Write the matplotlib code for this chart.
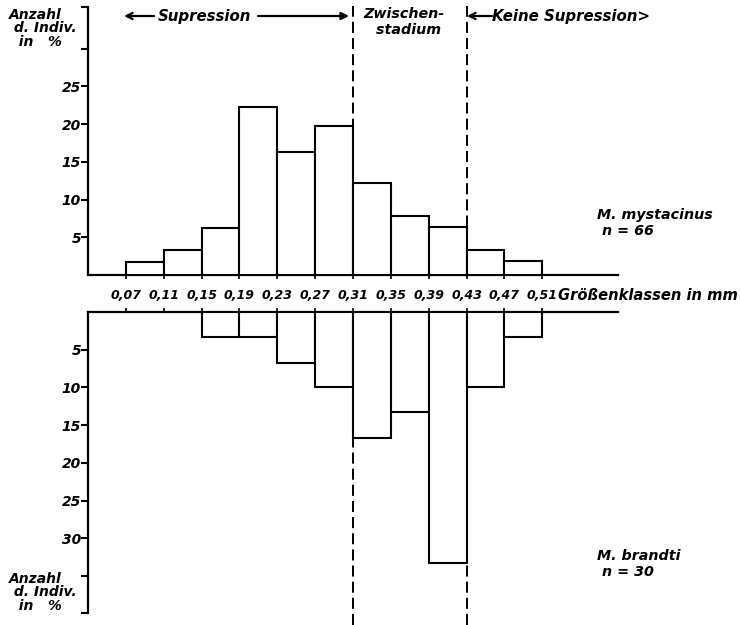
import numpy as np
import matplotlib
matplotlib.use('Agg')
import matplotlib.pyplot as plt

# size classes (mm) and bar heights in %
class_edges = [0.07, 0.11, 0.15, 0.19, 0.23, 0.27, 0.31, 0.35, 0.39, 0.43, 0.47, 0.51]
tick_labels = ['0,07', '0,11', '0,15', '0,19', '0,23', '0,27', '0,31', '0,35', '0,39', '0,43', '0,47', '0,51']

myst_left = [0.07, 0.11, 0.15, 0.19, 0.23, 0.27, 0.31, 0.35, 0.39, 0.43, 0.47]
myst_pct = [1.7, 3.3, 6.2, 22.2, 16.3, 19.7, 12.2, 7.8, 6.3, 3.3, 1.8]

brandti_left = [0.15, 0.19, 0.23, 0.27, 0.31, 0.35, 0.39, 0.43, 0.47]
brandti_pct = [3.3, 3.3, 6.7, 10.0, 16.7, 13.3, 33.3, 10.0, 3.3]

phase_bounds = [0.31, 0.43]
bin_w = 0.04

W, H = 740, 625
fig = plt.figure(figsize=(W / 100, H / 100), dpi=100)
fig.patch.set_facecolor('white')

font = dict(family='DejaVu Sans', weight='bold', style='italic')
dash = (0, (5.7, 2.6))

def px(x, y):
    return x / W, 1 - y / H

# --- top panel: M. mystacinus ---
ax1 = fig.add_axes([88 / W, 1 - 275 / H, 530 / W, 268 / H])
ax1.set_xlim(0.03, 0.59)
ax1.set_ylim(0, 35.5)
ax1.bar(myst_left, myst_pct, width=bin_w, align='edge', facecolor='white',
        edgecolor='black', linewidth=1.5, zorder=3)
for b in phase_bounds:
    ax1.axvline(b, ymin=0, ymax=1.005, color='black', lw=1.4,
                linestyle=dash, zorder=1, clip_on=False)
ax1.set_yticks([5, 10, 15, 20, 25, 30, 35.5])
ax1.set_yticklabels(['5', '10', '15', '20', '25', '', ''], fontsize=10, **font)
ax1.set_xticks(class_edges)
ax1.set_xticklabels([])
ax1.tick_params(axis='y', direction='out', length=5, width=1.5, pad=0)
ax1.tick_params(axis='x', direction='out', length=3, width=1.2)
for s in ['top', 'right']:
    ax1.spines[s].set_visible(False)
for s in ['left', 'bottom']:
    ax1.spines[s].set_linewidth(1.6)

# --- bottom panel: M. brandti (hanging down) ---
ax2 = fig.add_axes([88 / W, 1 - 613 / H, 530 / W, 301 / H])
ax2.set_xlim(0.03, 0.59)
ax2.set_ylim(39.9, 0)
ax2.bar(brandti_left, brandti_pct, width=bin_w, align='edge', facecolor='white',
        edgecolor='black', linewidth=1.5, zorder=3)
for b in phase_bounds:
    ax2.axvline(b, ymin=-0.04, ymax=1, color='black', lw=1.4,
                linestyle=dash, zorder=1, clip_on=False)
ax2.set_yticks([5, 10, 15, 20, 25, 30, 35, 39.9])
ax2.set_yticklabels(['5', '10', '15', '20', '25', '30', '', ''], fontsize=10, **font)
ax2.xaxis.set_ticks_position('top')
ax2.set_xticks(class_edges)
ax2.set_xticklabels(tick_labels, fontsize=9, **font)
ax2.tick_params(axis='y', direction='out', length=5, width=1.5, pad=0)
ax2.tick_params(axis='x', direction='out', length=3, width=1.2, pad=4)
for s in ['bottom', 'right']:
    ax2.spines[s].set_visible(False)
for s in ['left', 'top']:
    ax2.spines[s].set_linewidth(1.6)

# --- texts ---
fig.text(*px(558, 296), 'Größenklassen in mm', fontsize=10.6, va='center', ha='left', **font)

ylab = 'Anzahl\n d. Indiv.\n  in   %'
fig.text(*px(9, 8), ylab, fontsize=10, va='top', ha='left', linespacing=0.95, **font)
fig.text(*px(9, 572), ylab, fontsize=10, va='top', ha='left', linespacing=0.95, **font)

def arrow(x0, x1, y, style):
    ax1.annotate('', xy=px(x1, y), xytext=px(x0, y), xycoords='figure fraction',
                 textcoords='figure fraction', annotation_clip=False,
                 arrowprops=dict(arrowstyle=style, lw=1.6, color='black',
                                 mutation_scale=11, shrinkA=0, shrinkB=0))

fig.text(*px(204, 16), 'Supression', fontsize=10.8, va='center', ha='center', **font)
arrow(154, 124, 16, '->')
arrow(258, 349, 16, '-|>')

fig.text(*px(404, 22), 'Zwischen-\n  stadium', fontsize=10.3, va='center', ha='center',
         linespacing=1.15, **font)

fig.text(*px(492, 16), 'Keine Supression>', fontsize=10.8, va='center', ha='left', **font)
arrow(492, 467, 16, '->')

fig.text(*px(597, 223), 'M. mystacinus\n n = 66', fontsize=10.3, va='center', ha='left',
         linespacing=1.2, **font)
fig.text(*px(597, 564), 'M. brandti\n n = 30', fontsize=10.3, va='center', ha='left',
         linespacing=1.2, **font)

fig.savefig('out.png', dpi=100, facecolor='white')
